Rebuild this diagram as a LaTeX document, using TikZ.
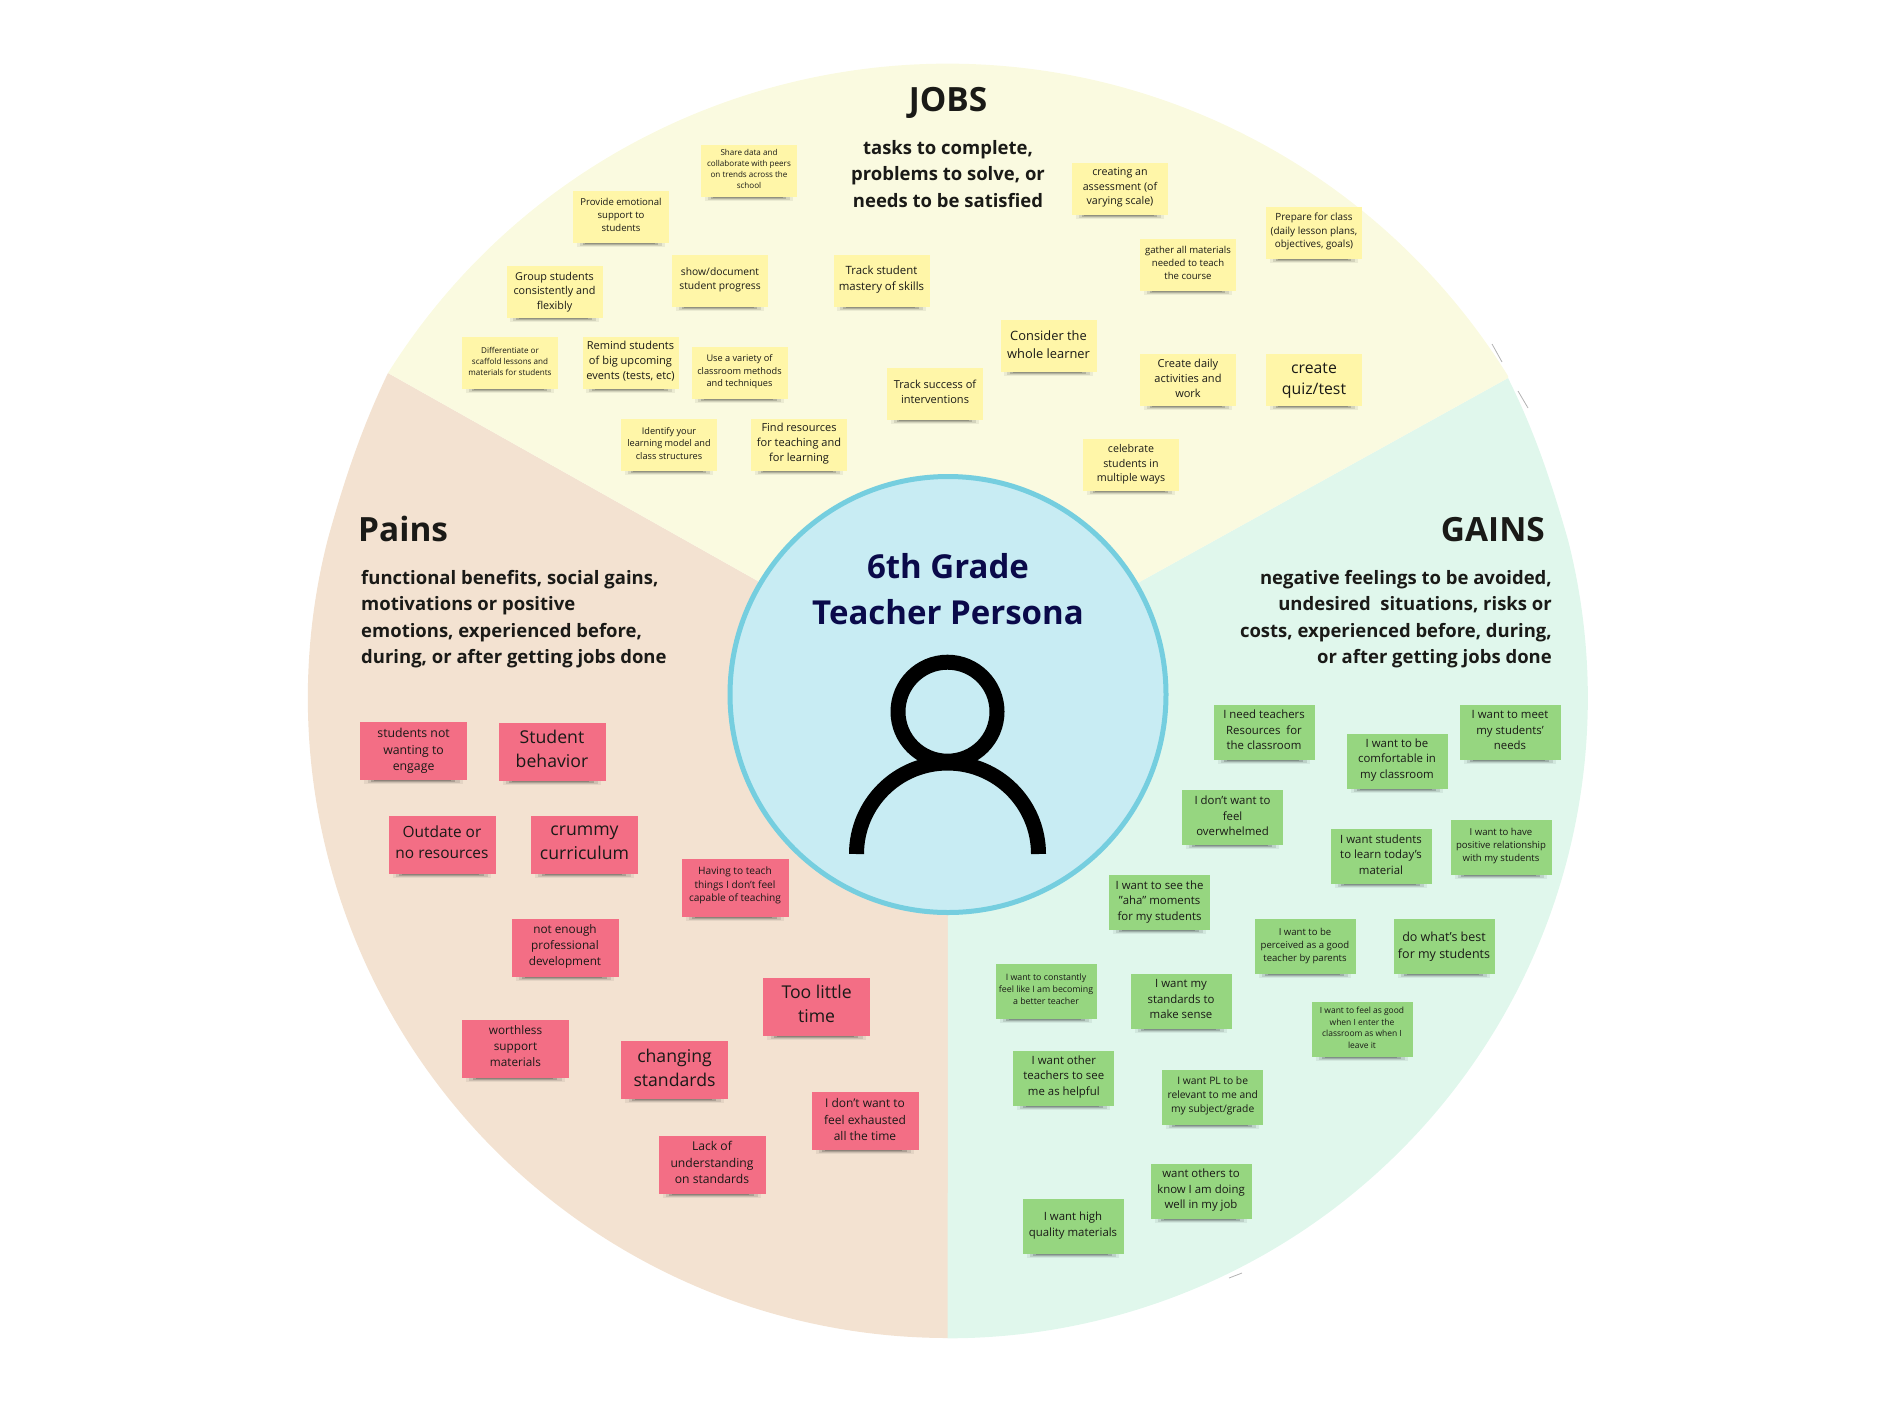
\documentclass[tikz,border=0pt]{standalone}
\usepackage{fontspec}
\setmainfont{Open Sans}
\usetikzlibrary{calc}
\definecolor{jobsbg}{HTML}{FAFAE0}
\definecolor{gainsbg}{HTML}{E0F7EC}
\definecolor{painsbg}{HTML}{F3E2D1}
\definecolor{corefill}{HTML}{C8ECF3}
\definecolor{coreline}{HTML}{75CEDF}
\definecolor{corenavy}{HTML}{0A0A4A}
\definecolor{noteyellow}{HTML}{FFF6A8}
\definecolor{notegreen}{HTML}{96D680}
\definecolor{notepink}{HTML}{F36E85}
\definecolor{inktext}{HTML}{1A1A17}
\tikzset{
  notebox/.style={inner sep=0pt,outer sep=0pt},
  notetext/.style={inner sep=0pt,outer sep=0pt,align=center,text=inktext},
  headline/.style={inner sep=0pt,font=\bfseries\fontsize{33.4}{40}\selectfont,text=inktext},
  subline/.style={inner sep=0pt,font=\bfseries\fontsize{18.5}{26.5}\selectfont,text=inktext},
  artefact/.style={draw=black!30,line width=.8pt},
}
\def\nudgeval{0}
\newcommand\nudge[1]{\gdef\nudgeval{#1}}
% name, x, y, w, h, colour, line spacing, text
\newcommand\sticky[8]{%
  \pgfmathsetmacro\fs{#7/1.36}%
  \pgfmathsetmacro\ty{#3-.09*#7+\nudgeval}%
  \fill[black,opacity=.06] (#2-#4/2+#4*.04,#3+#5/2) rectangle (#2+#4/2-#4*.04,#3+#5/2+4);
  \fill[black,opacity=.10] (#2-#4/2+#4*.07,#3+#5/2) rectangle (#2+#4/2-#4*.07,#3+#5/2+3);
  \fill[black,opacity=.16] (#2-#4/2+#4*.10,#3+#5/2) rectangle (#2+#4/2-#4*.11,#3+#5/2+2);
  \fill[black,opacity=.18] (#2-#4/2+#4*.13,#3+#5/2) rectangle (#2+#4/2-#4*.15,#3+#5/2+1);
  \node[notebox,fill=#6,minimum width=#4pt,minimum height=#5pt] (#1) at (#2,#3) {};%
  \node[notetext,font=\fontsize{\fs}{#7}\selectfont] (#1t) at (#2,\ty) {#8};%
  \gdef\nudgeval{0}%
}
\newcommand\yel[5]{\sticky{#1}{#2}{#3}{96}{52}{noteyellow}{#4}{#5}}
\newcommand\grn[5]{\sticky{#1}{#2}{#3}{101}{55}{notegreen}{#4}{#5}}
\newcommand\pnk[5]{\sticky{#1}{#2}{#3}{107}{58}{notepink}{#4}{#5}}
\begin{document}
\begin{tikzpicture}[x=1pt,y=-1pt]
\useasboundingbox (0,0) rectangle (1894,1406);
\coordinate (apex) at (948,688);
\coordinate (leftc) at (388,373);
\coordinate (rightc) at (1508,378);
\coordinate (bottomc) at (948,1338);
% wedges
\fill[painsbg] (apex) -- (bottomc) arc[start angle=270,end angle=165.7,x radius=640.2,y radius=-640.2]
  .. controls (343,484) and (361,429) .. (leftc) -- cycle;
\fill[gainsbg] (apex) -- (rightc) .. controls (1535,432) and (1552,484) .. (1568,540)
  arc[start angle=14.3,end angle=-90,x radius=640.2,y radius=-640.2] -- cycle;
\fill[jobsbg] (apex) -- (leftc) arc[start angle=147.9,end angle=31.8,x radius=660,y radius=-660] -- (rightc) -- cycle;
% centre
\node[circle,fill=corefill,draw=coreline,line width=5pt,minimum size=436pt,inner sep=0pt] (core) at (948,694.5) {};
\node[inner sep=0pt,align=center,text=corenavy,font=\bfseries\fontsize{33}{46}\selectfont] (persona) at (948,589) {6th Grade\\Teacher Persona};
\draw[line width=15pt] (947.5,711.7) circle[radius=49.5];
\draw[line width=15pt] (856.5,854) arc[start angle=180,end angle=0,x radius=91,y radius=-91];
% headings
\node[headline] (jobs) at (948,103) {JOBS};
\node[subline,align=center] (jobssub) at (948,174) {tasks to complete,\\problems to solve, or\\needs to be satisfied};
\node[headline,anchor=west] (pains) at (358,529) {Pains};
\node[subline,align=left,anchor=north west] (painssub) at (361,570) {functional benefits, social gains,\\motivations or positive\\emotions, experienced before,\\during, or after getting jobs done};
\node[headline,anchor=east] (gains) at (1545,530) {GAINS};
\node[subline,align=right,anchor=north east] (gainssub) at (1552,570) {negative feelings to be avoided,\\undesired\ \ situations, risks or\\costs, experienced before, during,\\or after getting jobs done};
% yellow
\nudge{-.5}\yel{y1}{749}{170.5}{11}{Share data and\\collaborate with peers\\on trends across the\\school}
\nudge{-.8}\yel{y2}{621}{216.5}{13}{Provide emotional\\support to\\students}
\nudge{1.5}\yel{y3}{554.5}{292}{14.7}{Group students\\consistently and\\flexibly}
\nudge{.5}\yel{y4}{720}{281}{14}{show/document\\student progress}
\yel{y5}{510}{362.5}{11}{Differentiate or\\scaffold lessons and\\materials for students}
\yel{y6}{630.5}{363}{15}{Remind students\\of big upcoming\\events (tests, etc)}
\yel{y7}{739.5}{373}{12.5}{Use a variety of\\classroom methods\\and techniques}
\nudge{-.7}\yel{y8}{669}{445}{12.5}{Identify your\\learning model and\\class structures}
\yel{y9}{799}{445}{15}{Find resources\\for teaching and\\for learning}
\yel{y10}{881.5}{281}{15.5}{Track student\\mastery of skills}
\yel{y11}{1120}{189}{14.5}{creating an\\assessment (of\\varying scale)}
\yel{y12}{1314}{233}{13.5}{Prepare for class\\(daily lesson plans,\\objectives, goals)}
\nudge{-.8}\yel{y13}{1188}{264.5}{13}{gather all materials\\needed to teach\\the course}
\yel{y14}{1048.5}{346}{17.5}{Consider the\\whole learner}
\yel{y15}{935}{393.5}{15}{Track success of\\interventions}
\yel{y16}{1188}{380}{15}{Create daily\\activities and\\work}
\nudge{2.7}\yel{y17}{1314}{380}{21.5}{create\\quiz/test}
\nudge{1.5}\yel{y18}{1131}{464.5}{14.5}{celebrate\\students in\\multiple ways}
% green
\nudge{-1}\grn{g1}{1264}{732.5}{15.5}{I need teachers\\Resources\ \ for\\the classroom}
\grn{g2}{1397}{761}{15.5}{I want to be\\comfortable in\\my classroom}
\nudge{-1}\grn{g3}{1510}{732.5}{15.5}{I want to meet\\my students'\\needs}
\grn{g4}{1232.5}{817.5}{15.5}{I don't want to\\feel\\overwhelmed}
\nudge{-.5}\grn{g5}{1381}{856.5}{15.5}{I want students\\to learn today's\\material}
\nudge{-.5}\grn{g6}{1501}{847.5}{13}{I want to have\\positive relationship\\with my students}
\nudge{.5}\grn{g7}{1159.5}{902.5}{15.5}{I want to see the\\"aha" moments\\for my students}
\nudge{.5}\grn{g8}{1305}{946.5}{13}{I want to be\\perceived as a good\\teacher by parents}
\nudge{1.4}\grn{g9}{1444}{946.5}{17}{do what's best\\for my students}
\nudge{-.7}\grn{g10}{1046}{991}{12}{I want to constantly\\feel like I am becoming\\a better teacher}
\nudge{-1}\grn{g11}{1181}{1001.5}{15.5}{I want my\\standards to\\make sense}
\nudge{-.7}\grn{g12}{1362}{1029.5}{11.5}{I want to feel as good\\when I enter the\\classroom as when I\\leave it}
\grn{g13}{1063.8}{1078}{15.5}{I want other\\teachers to see\\me as helpful}
\grn{g14}{1212.7}{1097}{14}{I want PL to be\\relevant to me and\\my subject/grade}
\grn{g15}{1201}{1191.5}{15.5}{want others to\\know I am doing\\well in my job}
\nudge{.5}\grn{g16}{1073}{1226.5}{15.5}{I want high\\quality materials}
% pink
\nudge{1.4}\pnk{p1}{413.6}{751}{16.7}{students not\\wanting to\\engage}
\nudge{-1}\pnk{p2}{552}{752}{24}{Student\\behavior}
\nudge{-1}\pnk{p3}{442}{845}{21}{Outdate or\\no resources}
\pnk{p4}{584.5}{845}{24}{crummy\\curriculum}
\nudge{-.8}\pnk{p5}{735}{887.5}{13.8}{Having to teach\\things I don't feel\\capable of teaching}
\pnk{p6}{565}{948}{16}{not enough\\professional\\development}
\nudge{-1}\pnk{p7}{816.6}{1007}{24}{Too little\\time}
\nudge{-1}\pnk{p8}{515.5}{1049}{16}{worthless\\support\\materials}
\pnk{p9}{674.5}{1070}{24}{changing\\standards}
\pnk{p10}{865}{1121}{16.3}{I don't want to\\feel exhausted\\all the time}
\nudge{-1}\pnk{p11}{712}{1165}{16.5}{Lack of\\understanding\\on standards}
% small marks
\coordinate (m1a) at (1229,1278);\coordinate (m1b) at (1242,1273);
\draw[artefact] (m1a) -- (m1b);
\coordinate (m2a) at (1492,344);\coordinate (m2b) at (1502,362);
\draw[artefact] (m2a) -- (m2b);
\coordinate (m3a) at (1518,391);\coordinate (m3b) at (1528,408);
\draw[artefact] (m3a) -- (m3b);
\end{tikzpicture}
\end{document}
